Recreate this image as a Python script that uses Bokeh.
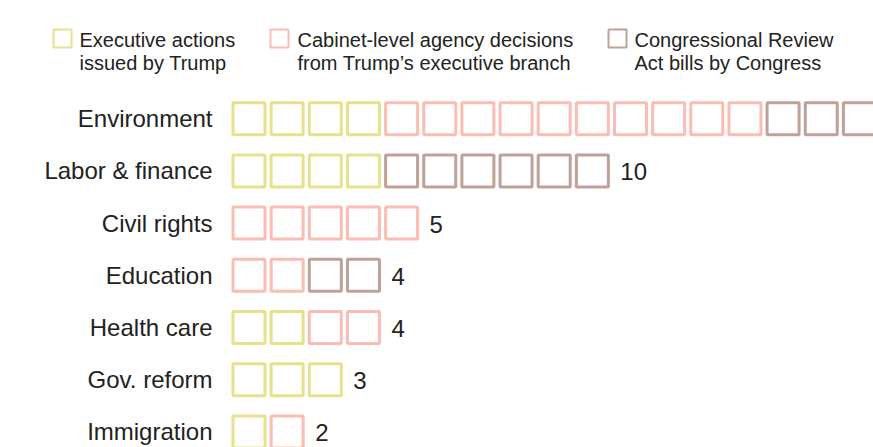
from bokeh.plotting import figure
from bokeh.models import Range1d, ColumnDataSource
from bokeh.core.properties import value
from bokeh.embed import file_html
from bokeh.resources import INLINE

# ---- data ----
categories = ["Environment", "Labor & finance", "Civil rights", "Education",
              "Health care", "Gov. reform", "Immigration"]
executive = [4, 4, 0, 0, 2, 3, 1]
cabinet = [10, 0, 5, 2, 2, 0, 1]
congress = [3, 6, 0, 2, 0, 0, 0]
series_names = ["Executive actions\nissued by Trump",
                "Cabinet-level agency decisions\nfrom Trump\u2019s executive branch",
                "Congressional Review\nAct bills by Congress"]
series_colors = ["#e9e08c", "#fbbdb3", "#bfa197"]

# ---- layout (pixels) ----
W, H = 873, 447
PITCH_X, X0 = 38.15, 248.5
ROW_PITCH, Y0 = 52.2, 118.2
FONT = "Liberation Sans"

def px2x(px):
    return (px - X0) / PITCH_X

def px2y(py):
    return (py - Y0) / ROW_PITCH

p = figure(width=W, height=H, output_backend="svg", toolbar_location=None,
           x_range=Range1d(px2x(0), px2x(W)), y_range=Range1d(px2y(H), px2y(0)),
           min_border=0, outline_line_color=None)
p.axis.visible = False
p.grid.visible = False
p.background_fill_color = "white"
p.border_fill_color = "white"

# squares
xs, ys, cols = [], [], []
totals = []
for r, cat in enumerate(categories):
    i = 0
    for s, counts in enumerate([executive, cabinet, congress]):
        for _ in range(counts[r]):
            xs.append(i)
            ys.append(r)
            cols.append(series_colors[s])
            i += 1
    totals.append(i)

src = ColumnDataSource(dict(x=xs, y=ys, c=cols))
p.rect(x="x", y="y", width=32, height=32, width_units="screen", height_units="screen",
       fill_color="white", line_color="c", line_width=3, source=src)

# row labels
p.text(x=[0] * len(categories), y=list(range(len(categories))), text=categories,
       x_offset=-36.5, text_align="right", text_baseline="middle",
       text_font=value(FONT), text_font_size="24px", text_color="#222222")

# totals (only those that fall inside the visible frame, as in the original crop)
vis = [r for r, t in enumerate(totals) if t + 0.5 < px2x(W)]
p.text(x=[totals[r] - 1 for r in vis], y=vis, text=[str(totals[r]) for r in vis],
       x_offset=28, y_offset=1, text_align="left", text_baseline="middle",
       text_font=value(FONT), text_font_size="24px", text_color="#222222")

# legend
box_cx = [62, 279, 617]
text_x = [79, 297, 634]
box_cy = 38
line1_y, line2_y = 39, 62
p.rect(x=[px2x(v) for v in box_cx], y=[px2y(box_cy)] * 3, width=18, height=18,
       width_units="screen", height_units="screen", fill_color="white",
       line_color=series_colors, line_width=2)
for k, name in enumerate(series_names):
    l1, l2 = name.split("\n")
    p.text(x=[px2x(text_x[k])] * 2, y=[px2y(line1_y), px2y(line2_y)], text=[l1, l2],
           text_align="left", text_baseline="middle",
           text_font=value(FONT), text_font_size="20px", text_color="#222222")

open("out.html", "w").write(file_html(p, INLINE))
